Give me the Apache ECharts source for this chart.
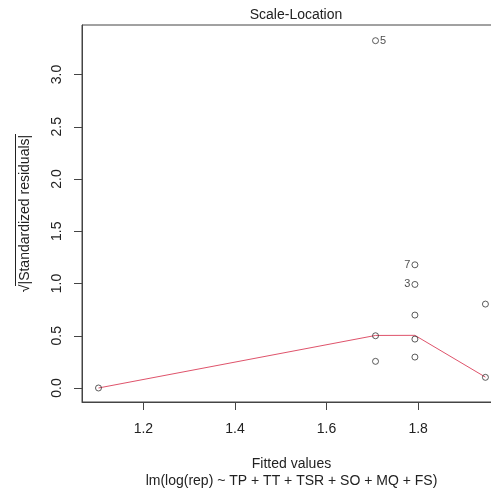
<!DOCTYPE html>
<html>
<head>
<meta charset="utf-8">
<script src="https://cdn.jsdelivr.net/npm/echarts@6/dist/echarts.min.js"></script>
<style>html,body{margin:0;padding:0;background:#fff}#c{width:491px;height:496px}</style>
</head>
<body>
<div id="c"></div>
<script>
// Data
var fittedValues = [1.102, 1.707, 1.707, 1.707, 1.793, 1.793, 1.793, 1.793, 1.793, 1.947, 1.947];
var sqrtStdResid = [0.000, 3.324, 0.500, 0.255, 1.179, 0.991, 0.698, 0.468, 0.296, 0.803, 0.102];
var pointIds     = ['',    '5',   '',    '',    '7',   '3',   '',    '',    '',    '',    ''];
var idSide       = ['',    'right','',   '',    'left','left','',   '',    '',    '',    ''];
var smoothX = [1.102, 1.707, 1.793, 1.947];
var smoothY = [0.000, 0.503, 0.504, 0.104];
var xTicks = [1.2, 1.4, 1.6, 1.8];
var yTicks = [0.0, 0.5, 1.0, 1.5, 2.0, 2.5, 3.0];

var FONT = '"Liberation Sans", Arial, sans-serif';
var pts = fittedValues.map(function (x, i) {
  var d = { value: [x, sqrtStdResid[i]] };
  if (pointIds[i]) {
    d.label = { show: true, formatter: pointIds[i], position: idSide[i], distance: 1,
      fontFamily: FONT, fontSize: 11, color: '#222' };
  }
  return d;
});
var line = smoothX.map(function (x, i) { return [x, smoothY[i]]; });

var chart = echarts.init(document.getElementById('c'), null, { renderer: 'canvas' });
chart.setOption({
  animation: false,
  backgroundColor: '#fff',
  title: {
    text: 'Scale-Location', left: 291, top: 3, textAlign: 'center',
    textStyle: { fontFamily: FONT, fontSize: 14, fontWeight: 'normal', color: '#222' }
  },
  // overline of the square-root sign in the y-axis title
  graphic: [{ type: 'line', shape: { x1: 15.5, y1: 134, x2: 15.5, y2: 286 }, style: { stroke: '#222', lineWidth: 1 } }],
  grid: { left: 82, top: 25, right: -10, bottom: 94, outerBoundsMode: 'none', containLabel: false,
    show: true, borderColor: '#444', borderWidth: 1, backgroundColor: 'transparent' },
  xAxis: {
    type: 'value', min: 1.066, max: 1.981,
    name: 'Fitted values\nlm(log(rep) ~ TP + TT + TSR + SO + MQ + FS)',
    nameLocation: 'middle', nameGap: 54,
    nameTextStyle: { fontFamily: FONT, fontSize: 14, color: '#222', lineHeight: 17 },
    splitLine: { show: false },
    axisLine: { show: true, onZero: false, lineStyle: { color: '#444' } },
    axisTick: { show: true, length: 8, customValues: xTicks, lineStyle: { color: '#444' } },
    axisLabel: { customValues: xTicks, margin: 20, fontFamily: FONT, fontSize: 14, color: '#222',
      formatter: function (v) { return v.toFixed(1); } }
  },
  yAxis: {
    type: 'value', min: -0.134, max: 3.474,
    name: '√|Standardized residuals|',
    nameLocation: 'middle', nameGap: 50, nameRotate: 90,
    nameTextStyle: { fontFamily: FONT, fontSize: 14, color: '#222' },
    splitLine: { show: false },
    axisLine: { show: true, onZero: false, lineStyle: { color: '#444' } },
    axisTick: { show: true, length: 8, customValues: yTicks, lineStyle: { color: '#444' } },
    axisLabel: { customValues: yTicks, margin: 18, rotate: 90, fontFamily: FONT, fontSize: 14, color: '#222',
      formatter: function (v) { return v.toFixed(1); } }
  },
  series: [
    { type: 'line', data: line, symbol: 'none', lineStyle: { color: '#DF536B', width: 1 }, z: 1 },
    { type: 'scatter', data: pts, symbol: 'circle', symbolSize: 6,
      itemStyle: { color: 'transparent', borderColor: '#333', borderWidth: 1 }, z: 2 }
  ]
});
</script>
</body>
</html>
